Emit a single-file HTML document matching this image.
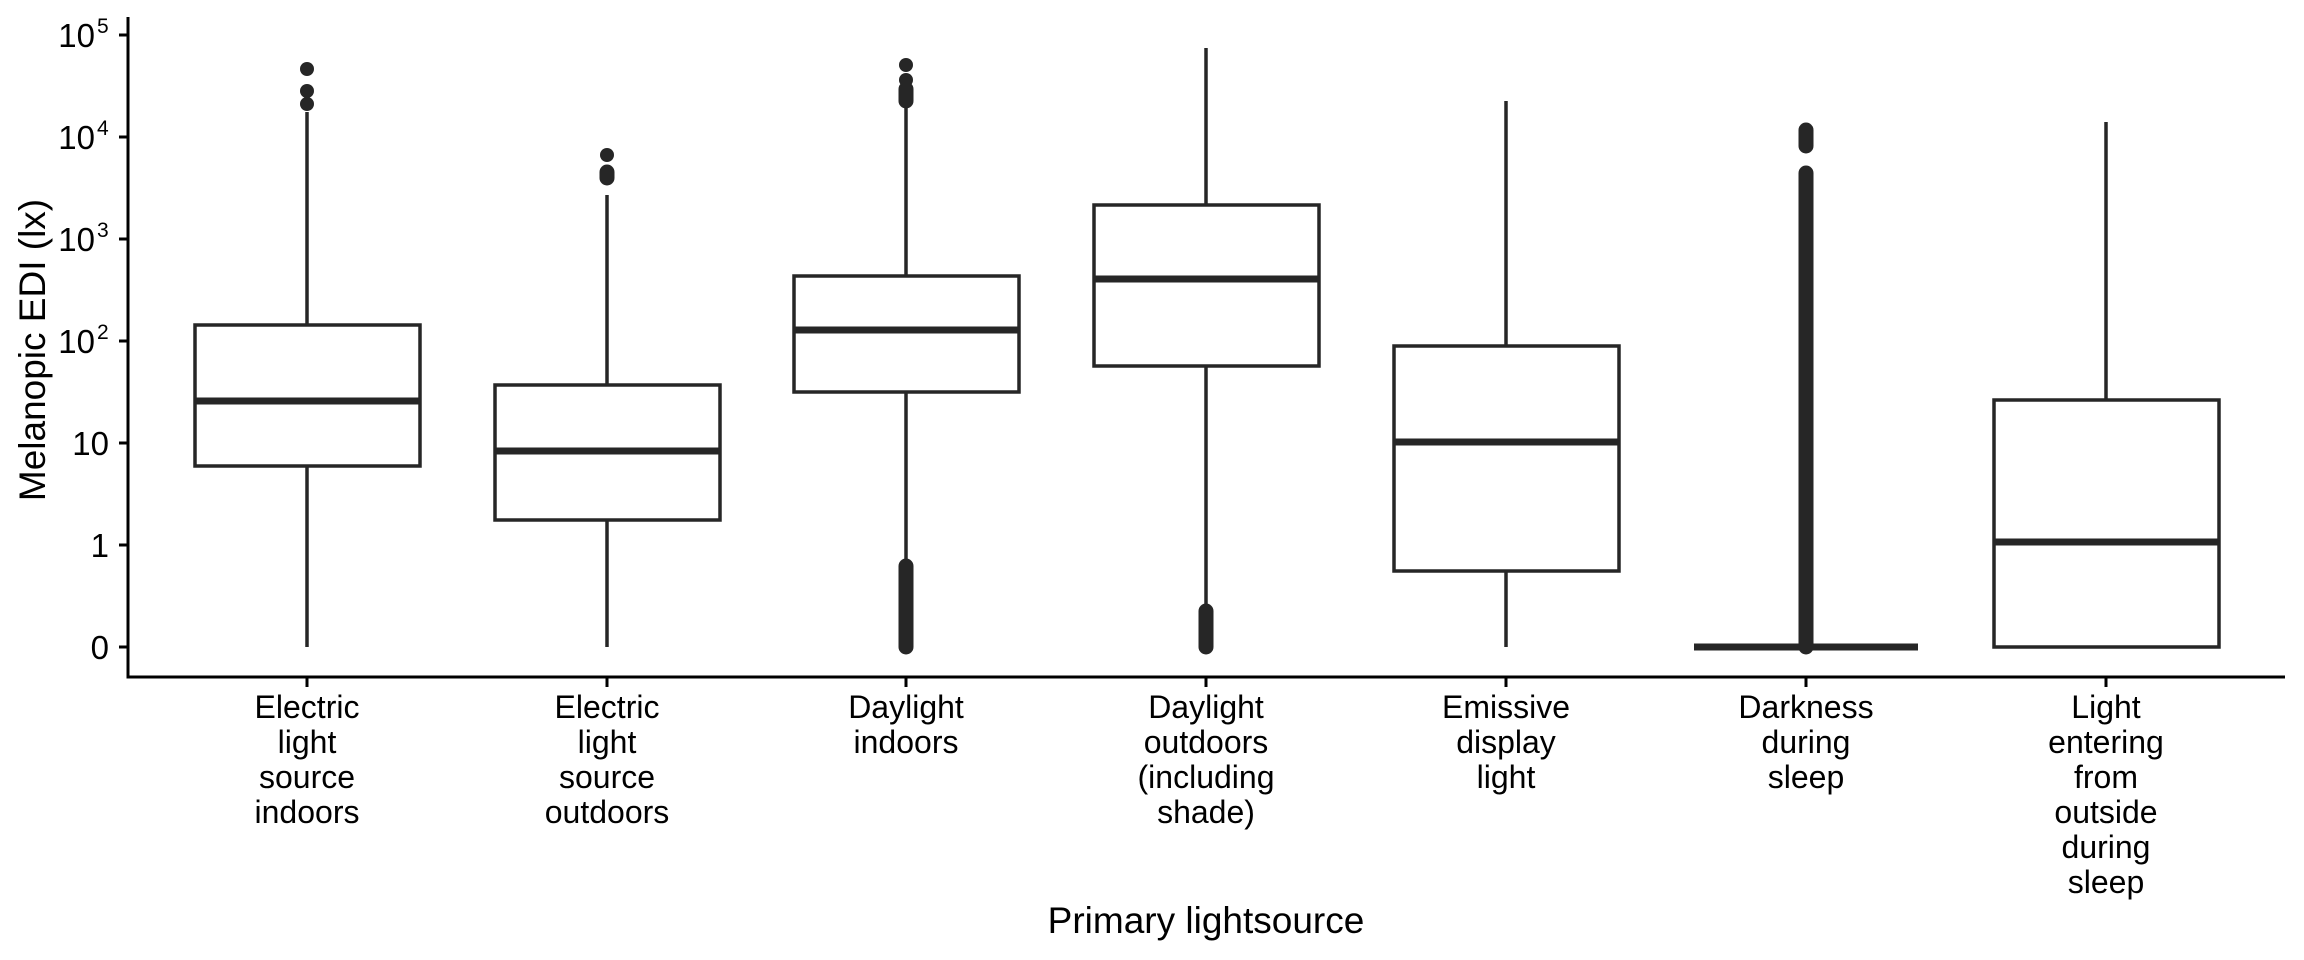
<!DOCTYPE html>
<html><head><meta charset="utf-8"><style>
html,body{margin:0;padding:0;background:#fff;}
svg{display:block;}
text{font-family:"Liberation Sans",Arial,sans-serif;fill:#000;}
</style></head><body>
<svg width="2304" height="960" viewBox="0 0 2304 960" xmlns="http://www.w3.org/2000/svg">
<rect width="2304" height="960" fill="#fff"/>
<line x1="128" y1="17" x2="128" y2="678" stroke="#000" stroke-width="3"/>
<line x1="126.5" y1="677" x2="2285" y2="677" stroke="#000" stroke-width="3"/>
<g stroke="#000" stroke-width="3">
<line x1="119" y1="35" x2="128" y2="35"/>
<line x1="119" y1="137" x2="128" y2="137"/>
<line x1="119" y1="239" x2="128" y2="239"/>
<line x1="119" y1="341" x2="128" y2="341"/>
<line x1="119" y1="443" x2="128" y2="443"/>
<line x1="119" y1="545" x2="128" y2="545"/>
<line x1="119" y1="647" x2="128" y2="647"/>
<line x1="307" y1="677" x2="307" y2="687"/>
<line x1="607" y1="677" x2="607" y2="687"/>
<line x1="906" y1="677" x2="906" y2="687"/>
<line x1="1206" y1="677" x2="1206" y2="687"/>
<line x1="1506" y1="677" x2="1506" y2="687"/>
<line x1="1806" y1="677" x2="1806" y2="687"/>
<line x1="2106" y1="677" x2="2106" y2="687"/>
</g>
<g font-size="33">
<text x="95" y="47" text-anchor="end">10</text><text x="97" y="33" font-size="21">5</text>
<text x="95" y="149" text-anchor="end">10</text><text x="97" y="135" font-size="21">4</text>
<text x="95" y="251" text-anchor="end">10</text><text x="97" y="237" font-size="21">3</text>
<text x="95" y="353" text-anchor="end">10</text><text x="97" y="339" font-size="21">2</text>
<text x="109" y="455" text-anchor="end">10</text>
<text x="109" y="557" text-anchor="end">1</text>
<text x="109" y="659" text-anchor="end">0</text>
</g>
<text x="0" y="0" font-size="37" text-anchor="middle" transform="translate(45,350) rotate(-90)">Melanopic EDI (lx)</text>

<g stroke="#262626" stroke-width="3.5" fill="#fff">
<line x1="307" y1="112" x2="307" y2="647"/>
<rect x="195" y="325" width="225" height="141"/>
<line x1="195" y1="401" x2="420" y2="401" stroke-width="7"/>
<line x1="607" y1="195" x2="607" y2="647"/>
<rect x="495" y="385" width="225" height="135"/>
<line x1="495" y1="451" x2="720" y2="451" stroke-width="7"/>
<line x1="906" y1="105" x2="906" y2="562"/>
<rect x="794" y="276" width="225" height="116"/>
<line x1="794" y1="330" x2="1019" y2="330" stroke-width="7"/>
<line x1="1206" y1="48" x2="1206" y2="607"/>
<rect x="1094" y="205" width="225" height="161"/>
<line x1="1094" y1="279" x2="1319" y2="279" stroke-width="7"/>
<line x1="1506" y1="101" x2="1506" y2="647"/>
<rect x="1394" y="346" width="225" height="225"/>
<line x1="1394" y1="442" x2="1619" y2="442" stroke-width="7"/>
<line x1="2106" y1="122" x2="2106" y2="400"/>
<rect x="1994" y="400" width="225" height="247"/>
<line x1="1994" y1="542" x2="2219" y2="542" stroke-width="7"/>
</g>
<line x1="1694" y1="647" x2="1918" y2="647" stroke="#262626" stroke-width="7"/>
<g stroke="#262626" stroke-linecap="round" stroke-width="15" fill="none">
<line x1="1806" y1="130" x2="1806" y2="146"/>
<line x1="1806" y1="173" x2="1806" y2="647"/>
<line x1="906" y1="89" x2="906" y2="101"/>
<line x1="906" y1="566" x2="906" y2="647"/>
<line x1="1206" y1="611" x2="1206" y2="647"/>
<line x1="607" y1="172" x2="607" y2="178"/>
</g>
<g fill="#262626">
<circle cx="307" cy="69" r="7"/><circle cx="307" cy="91" r="7"/><circle cx="307" cy="104" r="7"/>
<circle cx="607" cy="155" r="7"/>
<circle cx="906" cy="65" r="7"/><circle cx="906" cy="80" r="7"/>
</g>

<g font-size="32" text-anchor="middle">
<text x="307" y="718">Electric</text><text x="307" y="753">light</text><text x="307" y="788">source</text><text x="307" y="823">indoors</text>
<text x="607" y="718">Electric</text><text x="607" y="753">light</text><text x="607" y="788">source</text><text x="607" y="823">outdoors</text>
<text x="906" y="718">Daylight</text><text x="906" y="753">indoors</text>
<text x="1206" y="718">Daylight</text><text x="1206" y="753">outdoors</text><text x="1206" y="788">(including</text><text x="1206" y="823">shade)</text>
<text x="1506" y="718">Emissive</text><text x="1506" y="753">display</text><text x="1506" y="788">light</text>
<text x="1806" y="718">Darkness</text><text x="1806" y="753">during</text><text x="1806" y="788">sleep</text>
<text x="2106" y="718">Light</text><text x="2106" y="753">entering</text><text x="2106" y="788">from</text><text x="2106" y="823">outside</text><text x="2106" y="858">during</text><text x="2106" y="893">sleep</text>
</g>
<text x="1206" y="933" font-size="37" text-anchor="middle">Primary lightsource</text>
</svg>
</body></html>
